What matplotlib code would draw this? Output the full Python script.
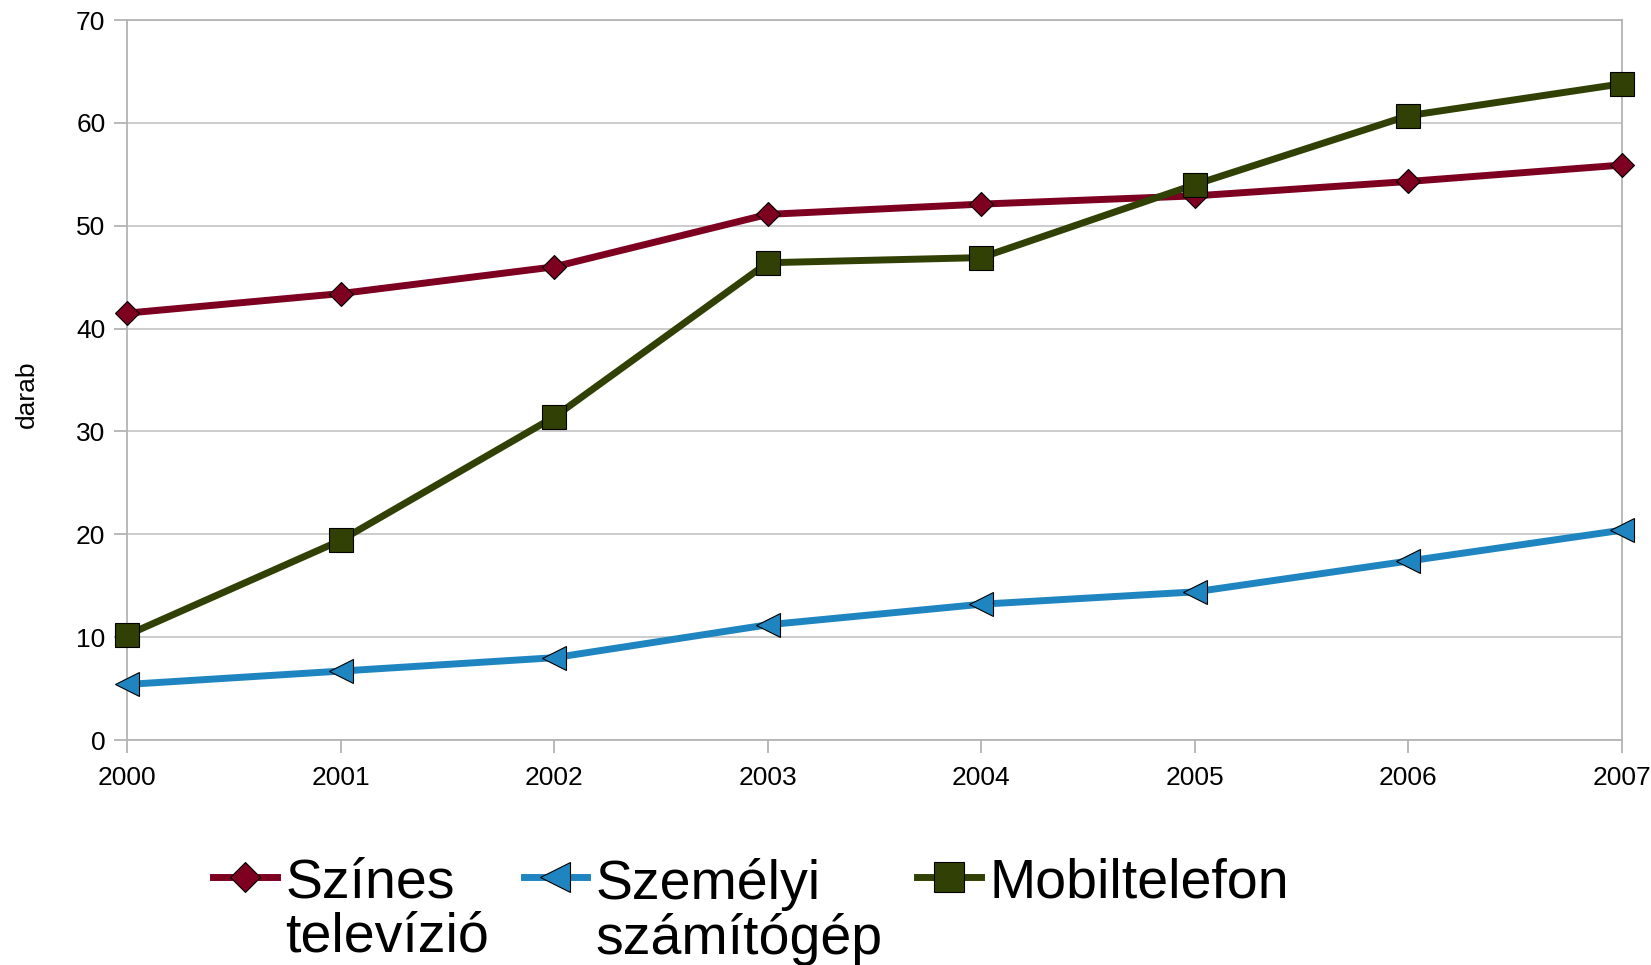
import matplotlib.pyplot as plt
from matplotlib.lines import Line2D

plt.rcParams['font.family'] = ['Liberation Sans', 'DejaVu Sans']

# data
years = [2000, 2001, 2002, 2003, 2004, 2005, 2006, 2007]
szines_tv = [41.5, 43.4, 46.0, 51.1, 52.1, 52.9, 54.3, 55.9]
szemelyi_pc = [5.4, 6.7, 8.0, 11.2, 13.2, 14.4, 17.4, 20.4]
mobiltelefon = [10.2, 19.4, 31.4, 46.4, 46.9, 54.0, 60.7, 63.8]

labels = ["Színes\ntelevízió", "Személyi\nszámítógép", "Mobiltelefon"]
colors = ["#7e0021", "#1f85c0", "#314004"]
markers = ["D", "<", "s"]
msizes = [12.5, 17, 17]
yticks = [0, 10, 20, 30, 40, 50, 60, 70]

fig = plt.figure(figsize=(16.51, 9.65), dpi=100)
ax = fig.add_axes([127 / 1651, 1 - 740 / 965, 1495 / 1651, 720 / 965])

series = [szines_tv, szemelyi_pc, mobiltelefon]
handles = []
for vals, lab, col, mk, ms in zip(series, labels, colors, markers, msizes):
    ax.plot(years, vals, color=col, lw=5, marker=mk, markersize=ms,
            markerfacecolor=col, markeredgecolor="black", markeredgewidth=0.8,
            clip_on=False, zorder=3)
    handles.append(Line2D([], [], color=col, lw=5, marker=mk, markersize=ms * 1.25,
                          markerfacecolor=col, markeredgecolor="black",
                          markeredgewidth=0.8, label=lab))

ax.set_xlim(2000, 2007)
ax.set_ylim(0, 70)
ax.set_xticks(years)
ax.set_yticks(yticks)
ax.grid(axis="y", color="#c8c8c8", lw=1.3)
ax.set_axisbelow(True)
for side in ["left", "right", "bottom", "top"]:
    ax.spines[side].set_color("#b3b3b3")
    ax.spines[side].set_linewidth(1.3)
ax.tick_params(axis="both", colors="#b3b3b3", width=1.3, length=9.5,
               labelcolor="black", labelsize=19)
ax.tick_params(axis="y", pad=6)
ax.tick_params(axis="x", pad=9)

ax.set_ylabel("darab", fontsize=19)
ax.yaxis.set_label_coords(-0.059, 0.48)

leg = fig.legend(handles=handles, loc="upper left", bbox_to_anchor=(213 / 1651, 1 - 858 / 965),
                 ncol=3, frameon=False, fontsize=40, borderpad=0, borderaxespad=0,
                 handlelength=1.15, handletextpad=0.15, columnspacing=0.62,
                 handleheight=0.7)
for t in leg.get_texts():
    t.set_linespacing(1.04)
leg._legend_handle_box.align = "top"
for column in leg._legend_handle_box.get_children():
    for row in column.get_children():
        row.align = "top"

fig.savefig("out.png", dpi=100)
